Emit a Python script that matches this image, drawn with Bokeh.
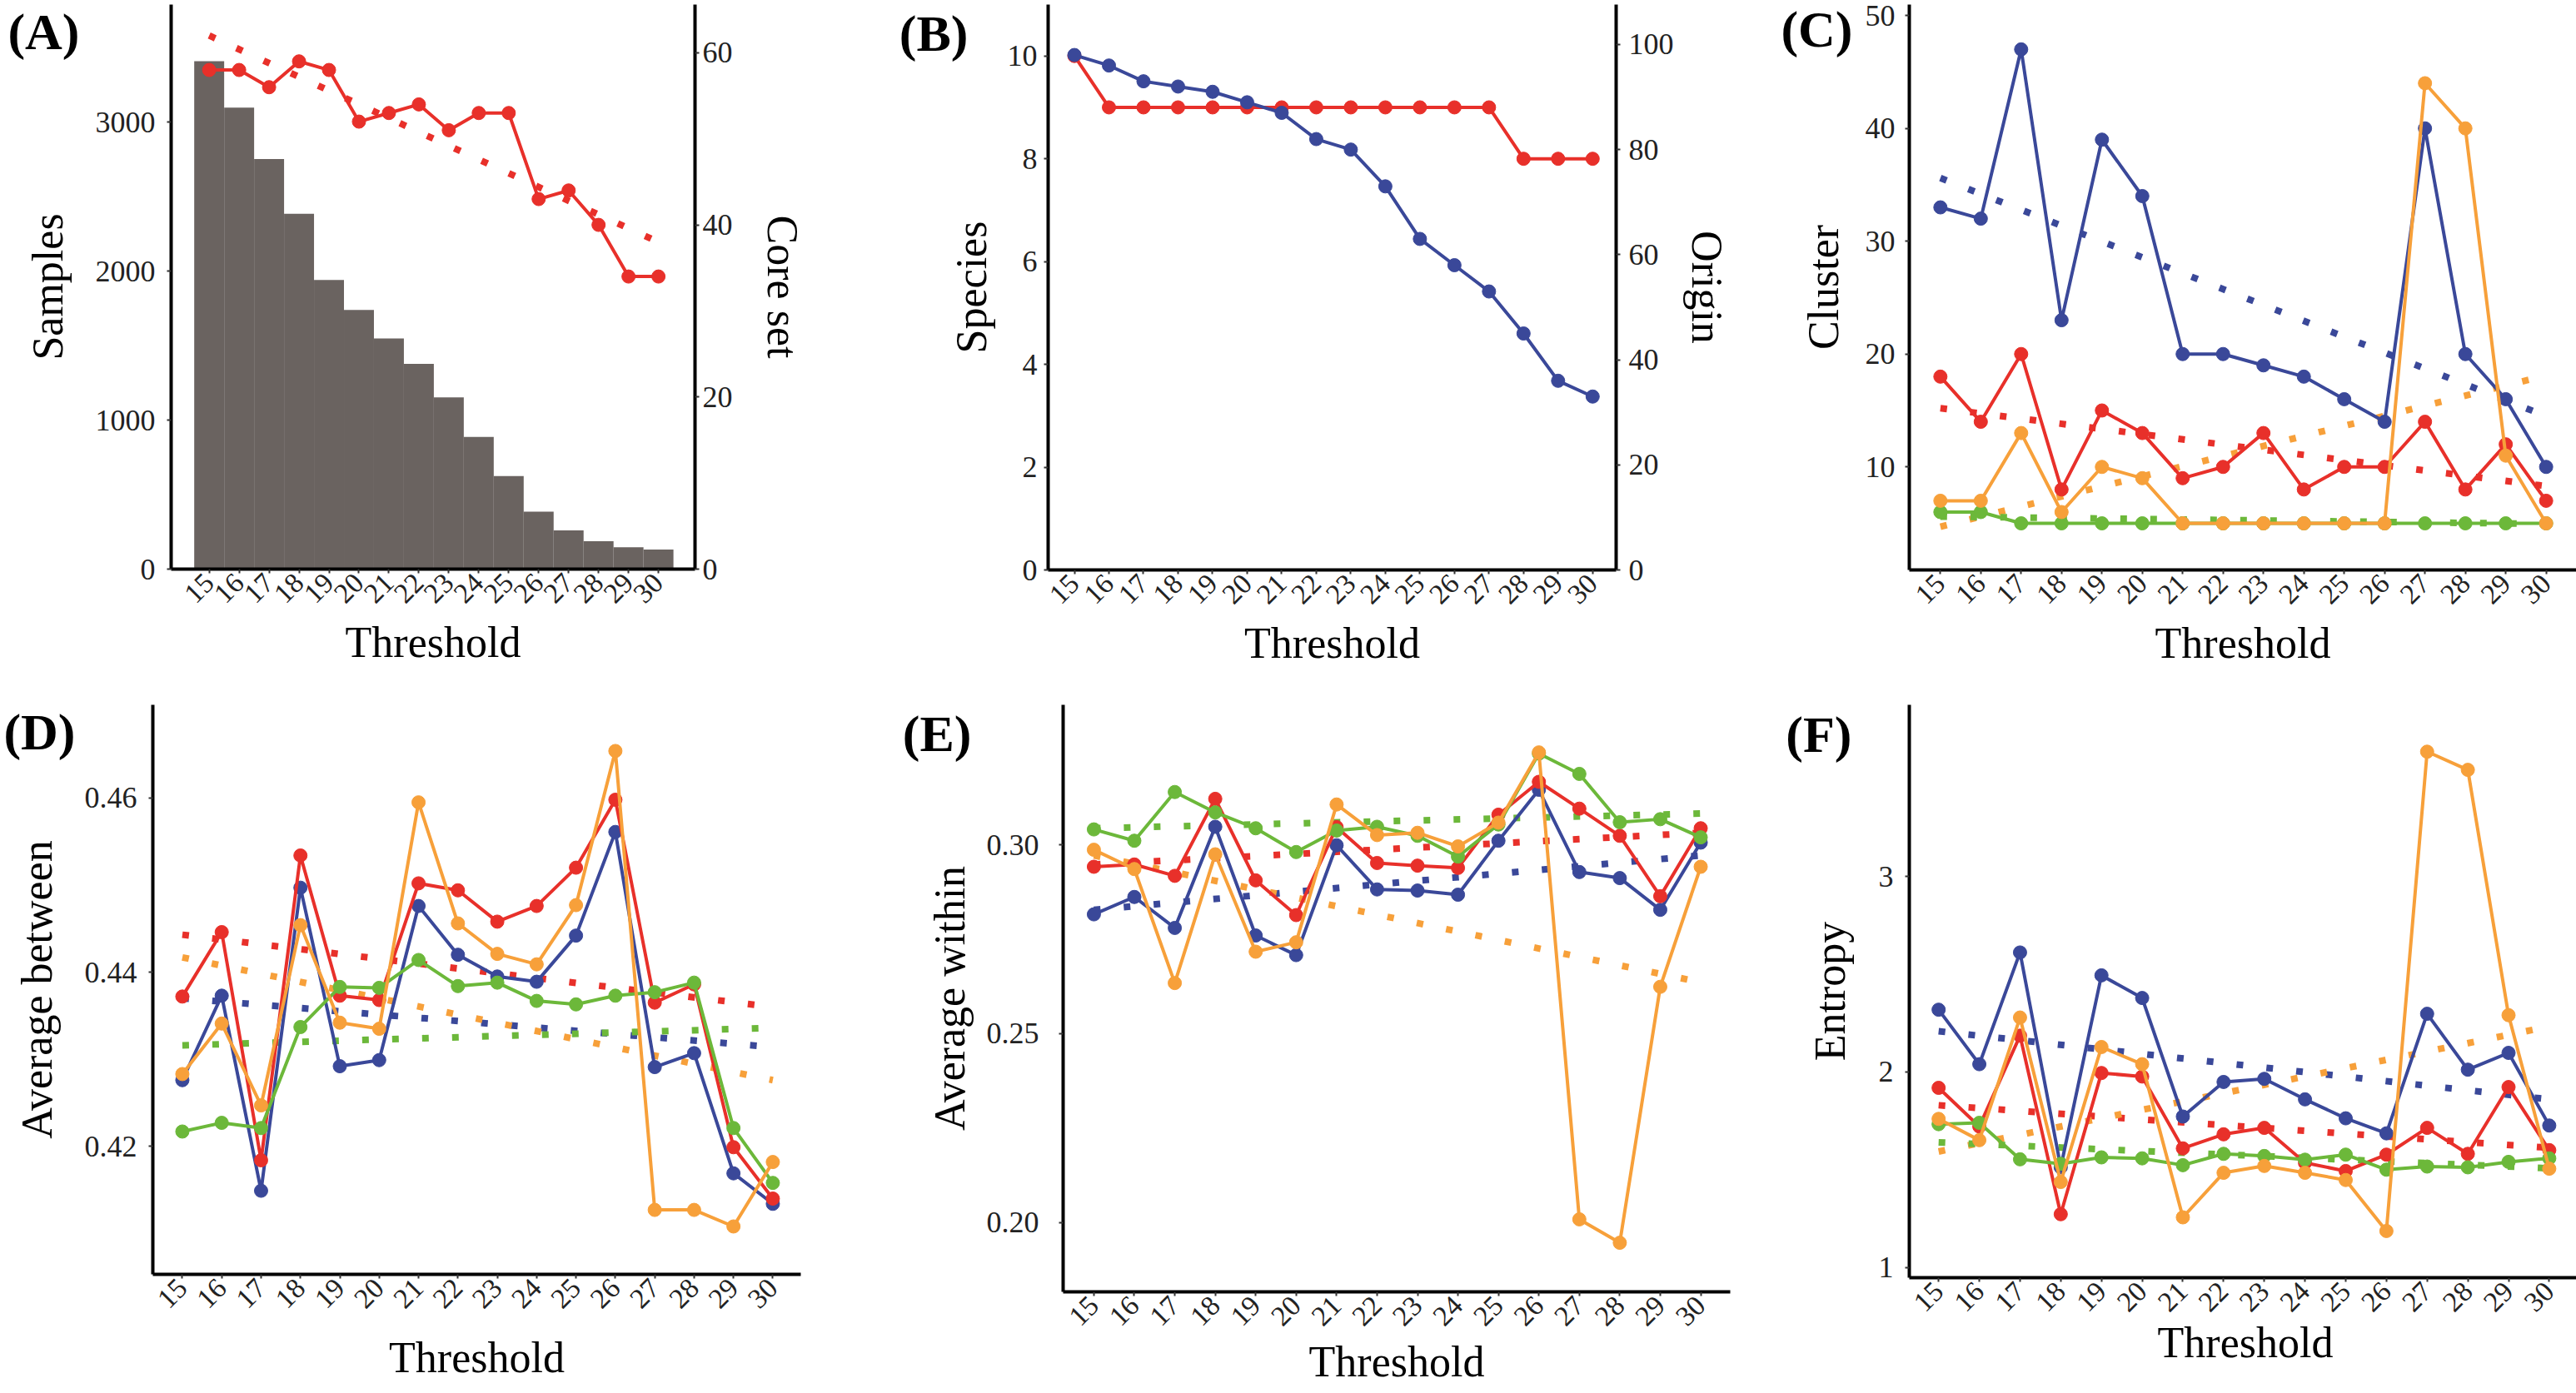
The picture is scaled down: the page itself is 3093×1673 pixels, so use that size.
import math
from bokeh.plotting import figure
from bokeh.models import Range1d, LinearAxis, FixedTicker
from bokeh.layouts import column, row
from bokeh.embed import file_html
from bokeh.resources import INLINE

# ---------------- data ----------------
THRESH = [15, 16, 17, 18, 19, 20, 21, 22, 23, 24, 25, 26, 27, 28, 29, 30]
TREND_X = [15, 30]

# (A)
SAMPLES = [3408, 3096, 2752, 2384, 1940, 1739, 1547, 1377, 1153, 887, 624, 385, 260, 187, 146, 131]
CORE_SET = [58, 58, 56, 59, 58, 52, 53, 54, 51, 53, 53, 43, 44, 40, 34, 34]
CORE_TREND = [62.0, 38.0]

# (B)
SPECIES = [10, 9, 9, 9, 9, 9, 9, 9, 9, 9, 9, 9, 9, 8, 8, 8]
ORIGIN = [98, 96, 93, 92, 91, 89, 87, 82, 80, 73, 63, 58, 53, 45, 36, 33]

# (C) Cluster
C_BLUE = [33, 32, 47, 23, 39, 34, 20, 20, 19, 18, 16, 14, 40, 20, 16, 10]
C_RED = [18, 14, 20, 8, 15, 13, 9, 10, 13, 8, 10, 10, 14, 8, 12, 7]
C_ORANGE = [7, 7, 13, 6, 10, 9, 5, 5, 5, 5, 5, 5, 44, 40, 11, 5]
C_GREEN = [6, 6, 5, 5, 5, 5, 5, 5, 5, 5, 5, 5, 5, 5, 5, 5]
C_TREND_BLUE = [35.6, 14.5]
C_TREND_RED = [15.2, 8.3]
C_TREND_ORANGE = [4.7, 18.1]
C_TREND_GREEN = [5.6, 4.95]

# (D) Average between
D_RED = [0.4372, 0.4446, 0.4184, 0.4534, 0.4373, 0.4368, 0.4502, 0.4494, 0.4458, 0.4476, 0.4520, 0.4598, 0.4365, 0.4386, 0.4199, 0.4140]
D_BLUE = [0.4276, 0.4373, 0.4149, 0.4497, 0.4292, 0.4299, 0.4476, 0.4420, 0.4395, 0.4389, 0.4442, 0.4561, 0.4291, 0.4307, 0.4169, 0.4134]
D_ORANGE = [0.4283, 0.4341, 0.4247, 0.4454, 0.4342, 0.4335, 0.4595, 0.4456, 0.4421, 0.4409, 0.4477, 0.4654, 0.4127, 0.4127, 0.4108, 0.4182]
D_GREEN = [0.4217, 0.4227, 0.4221, 0.4337, 0.4383, 0.4382, 0.4414, 0.4384, 0.4388, 0.4367, 0.4363, 0.4373, 0.4377, 0.4388, 0.4221, 0.4158]
D_TREND_RED = [0.4443, 0.4360]
D_TREND_BLUE = [0.4370, 0.4314]
D_TREND_ORANGE = [0.4417, 0.4276]
D_TREND_GREEN = [0.4316, 0.4336]

# (E) Average within
E_RED = [0.2942, 0.2948, 0.2918, 0.3122, 0.2906, 0.2814, 0.3047, 0.2952, 0.2945, 0.2939, 0.3080, 0.3167, 0.3096, 0.3024, 0.2864, 0.3044]
E_BLUE = [0.2816, 0.2862, 0.2780, 0.3048, 0.2760, 0.2708, 0.2999, 0.2882, 0.2879, 0.2868, 0.3011, 0.3146, 0.2928, 0.2912, 0.2828, 0.3006]
E_GREEN = [0.3041, 0.3011, 0.3140, 0.3086, 0.3044, 0.2981, 0.3038, 0.3048, 0.3024, 0.2969, 0.3054, 0.3242, 0.3188, 0.3060, 0.3068, 0.3020]
E_ORANGE = [0.2987, 0.2936, 0.2634, 0.2975, 0.2717, 0.2742, 0.3107, 0.3026, 0.3032, 0.2996, 0.3059, 0.3245, 0.2008, 0.1946, 0.2624, 0.2942]
E_TREND_GREEN = [0.3044, 0.3083]
E_TREND_RED = [0.2948, 0.3032]
E_TREND_BLUE = [0.2828, 0.2972]
E_TREND_ORANGE = [0.2972, 0.2636]

# (F) Entropy
F_BLUE = [2.319, 2.040, 2.612, 1.512, 2.495, 2.379, 1.772, 1.949, 1.965, 1.860, 1.763, 1.686, 2.298, 2.012, 2.098, 1.726]
F_RED = [1.919, 1.721, 2.186, 1.272, 1.995, 1.977, 1.609, 1.681, 1.714, 1.535, 1.493, 1.577, 1.714, 1.581, 1.923, 1.600]
F_ORANGE = [1.760, 1.651, 2.279, 1.437, 2.128, 2.040, 1.256, 1.484, 1.519, 1.484, 1.447, 1.186, 3.640, 3.547, 2.291, 1.505]
F_GREEN = [1.733, 1.740, 1.553, 1.530, 1.563, 1.558, 1.523, 1.581, 1.570, 1.551, 1.577, 1.500, 1.516, 1.512, 1.540, 1.558]
F_TREND_BLUE = [2.209, 1.860]
F_TREND_RED = [1.830, 1.612]
F_TREND_ORANGE = [1.593, 2.233]
F_TREND_GREEN = [1.640, 1.507]

# ---------------- style ----------------
BLUE = "#3A4899"
RED = "#E8302A"
ORANGE = "#F7A03A"
GREEN = "#6CB83A"
BAR = "#6A6360"
FONT = "Liberation Serif"
LW = 4
MS = 16
DOT = "8 28"


def make_fig(fw, fh, bl, br, bt, bb, xr, yr):
    p = figure(frame_width=fw, frame_height=fh,
               min_border_left=bl, min_border_right=br,
               min_border_top=bt, min_border_bottom=bb,
               x_range=Range1d(*xr), y_range=Range1d(*yr),
               output_backend="svg", toolbar_location=None, tools="")
    p.outline_line_color = None
    p.grid.visible = False
    p.background_fill_color = "white"
    p.border_fill_color = "white"
    return p


def style_axis(ax, label, tick_standoff, label_standoff, font_size="36px"):
    ax.axis_label = label
    ax.axis_label_text_font = FONT
    ax.axis_label_text_font_size = "52px"
    ax.axis_label_text_font_style = "normal"
    ax.axis_label_text_color = "black"
    ax.major_label_text_font = FONT
    ax.major_label_text_font_size = font_size
    ax.major_label_text_color = "#222222"
    ax.axis_line_width = 4
    ax.axis_line_color = "black"
    ax.major_tick_line_width = 2
    ax.major_tick_line_color = "#333333"
    ax.major_tick_out = 5
    ax.major_tick_in = 0
    ax.minor_tick_line_color = None
    ax.major_label_standoff = tick_standoff
    ax.axis_label_standoff = label_standoff


def style_x(p, label_standoff):
    ax = p.xaxis[0]
    style_axis(ax, "Threshold", 6, label_standoff, font_size="34px")
    ax.ticker = FixedTicker(ticks=THRESH)
    ax.major_label_orientation = math.pi / 4


def style_y(p, label, ticks, labels, tick_standoff, label_standoff):
    ax = p.yaxis[0]
    style_axis(ax, label, tick_standoff, label_standoff)
    ax.ticker = FixedTicker(ticks=ticks)
    ax.major_label_overrides = {t: l for t, l in zip(ticks, labels)}
    return ax


def panel_tag(p, text, px_from_top, standoff):
    # outer left axis whose single tick label is the panel tag
    y0, y1 = p.y_range.start, p.y_range.end
    v = round(y1 - px_from_top / p.frame_height * (y1 - y0), 5)
    ax = LinearAxis()
    ax.ticker = FixedTicker(ticks=[v])
    ax.major_label_overrides = {v: text}
    ax.major_label_text_font = FONT
    ax.major_label_text_font_size = "62px"
    ax.major_label_text_font_style = "bold"
    ax.major_label_text_color = "black"
    ax.axis_line_color = None
    ax.major_tick_line_color = None
    ax.minor_tick_line_color = None
    ax.major_tick_out = 0
    ax.major_tick_in = 0
    ax.major_label_standoff = standoff
    p.add_layout(ax, "left")


def series(p, ys, color, y_range_name="default"):
    p.line(THRESH, ys, line_color=color, line_width=LW, y_range_name=y_range_name)
    p.scatter(THRESH, ys, size=MS, fill_color=color, line_color=color, y_range_name=y_range_name)


def trend(p, ys, color, y_range_name="default"):
    p.line(TREND_X, ys, line_color=color, line_width=8, line_dash=DOT,
           line_cap="butt", y_range_name=y_range_name)


# ---------------- (A) ----------------
pA = make_fig(629, 678, 205, 206, 0, 152, (13.73, 31.22), (0, 3788))
pA.extra_y_ranges = {"core": Range1d(0, 65.6)}
pA.vbar(x=THRESH, top=SAMPLES, width=1.0, bottom=0, fill_color=BAR, line_color=None)
trend(pA, CORE_TREND, RED, "core")
series(pA, CORE_SET, RED, "core")
style_x(pA, 6)
style_y(pA, "Samples", [0, 1000, 2000, 3000], ["0", "1000", "2000", "3000"], 14, 26)
axA2 = LinearAxis(y_range_name="core")
style_axis(axA2, "Core set", 4, 28)
axA2.ticker = FixedTicker(ticks=[0, 20, 40, 60])
pA.add_layout(axA2, "right")
panel_tag(pA, "(A)", 32, -70)

# ---------------- (B) ----------------
pB = make_fig(682, 679, 218, 160, 0, 151, (14.24, 30.68), (0, 11))
pB.extra_y_ranges = {"origin": Range1d(0, 107.6)}
series(pB, SPECIES, RED)
series(pB, ORIGIN, BLUE, "origin")
style_x(pB, 6)
style_y(pB, "Species", [0, 2, 4, 6, 8, 10], ["0", "2", "4", "6", "8", "10"], 8, 12)
axB2 = LinearAxis(y_range_name="origin")
style_axis(axB2, "Origin", 10, 8)
axB2.ticker = FixedTicker(ticks=[0, 20, 40, 60, 80, 100])
pB.add_layout(axB2, "right")
panel_tag(pB, "(B)", 34, -28)

# ---------------- (C) ----------------
pC = make_fig(801, 679, 192, 0, 5, 146, (14.23, 30.75), (0.87, 50.97))
for ys, c in [(C_TREND_BLUE, BLUE), (C_TREND_RED, RED), (C_TREND_ORANGE, ORANGE), (C_TREND_GREEN, GREEN)]:
    trend(pC, ys, c)
for ys, c in [(C_BLUE, BLUE), (C_RED, RED), (C_GREEN, GREEN), (C_ORANGE, ORANGE)]:
    series(pC, ys, c)
style_x(pC, 6)
style_y(pC, "Cluster", [10, 20, 30, 40, 50], ["10", "20", "30", "40", "50"], 12, 19)
panel_tag(pC, "(C)", 28, -67)

# ---------------- (D) ----------------
pD = make_fig(778, 684, 183, 119, 16, 143, (14.25, 30.71), (0.4053, 0.4707))
for ys, c in [(D_TREND_RED, RED), (D_TREND_BLUE, BLUE), (D_TREND_ORANGE, ORANGE), (D_TREND_GREEN, GREEN)]:
    trend(pD, ys, c)
for ys, c in [(D_BLUE, BLUE), (D_RED, RED), (D_GREEN, GREEN), (D_ORANGE, ORANGE)]:
    series(pD, ys, c)
style_x(pD, 18)
style_y(pD, "Average between", [0.42, 0.44, 0.46], ["0.42", "0.44", "0.46"], 14, 26)
panel_tag(pD, "(D)", 32, -78)

# ---------------- (E) ----------------
pE = make_fig(801, 705, 190, 49, 16, 122, (14.24, 30.73), (0.1816, 0.3371))
for ys, c in [(E_TREND_GREEN, GREEN), (E_TREND_RED, RED), (E_TREND_BLUE, BLUE), (E_TREND_ORANGE, ORANGE)]:
    trend(pE, ys, c)
for ys, c in [(E_BLUE, BLUE), (E_RED, RED), (E_GREEN, GREEN), (E_ORANGE, ORANGE)]:
    series(pE, ys, c)
style_x(pE, 2)
style_y(pE, "Average within", [0.20, 0.25, 0.30], ["0.20", "0.25", "0.30"], 24, 13)
panel_tag(pE, "(E)", 34, -58)

# ---------------- (F) ----------------
pF = make_fig(807, 688, 166, 0, 14, 141, (14.28, 30.79), (0.947, 3.88))
for ys, c in [(F_TREND_BLUE, BLUE), (F_TREND_RED, RED), (F_TREND_ORANGE, ORANGE), (F_TREND_GREEN, GREEN)]:
    trend(pF, ys, c)
for ys, c in [(F_BLUE, BLUE), (F_RED, RED), (F_GREEN, GREEN), (F_ORANGE, ORANGE)]:
    series(pF, ys, c)
style_x(pF, -4)
style_y(pF, "Entropy", [1, 2, 3], ["1", "2", "3"], 14, 27)
panel_tag(pF, "(F)", 36, -58)

layout = column(row(pA, pB, pC, spacing=0), row(pD, pE, pF, spacing=0), spacing=0)
open("out.html", "w").write(file_html(layout, INLINE))
